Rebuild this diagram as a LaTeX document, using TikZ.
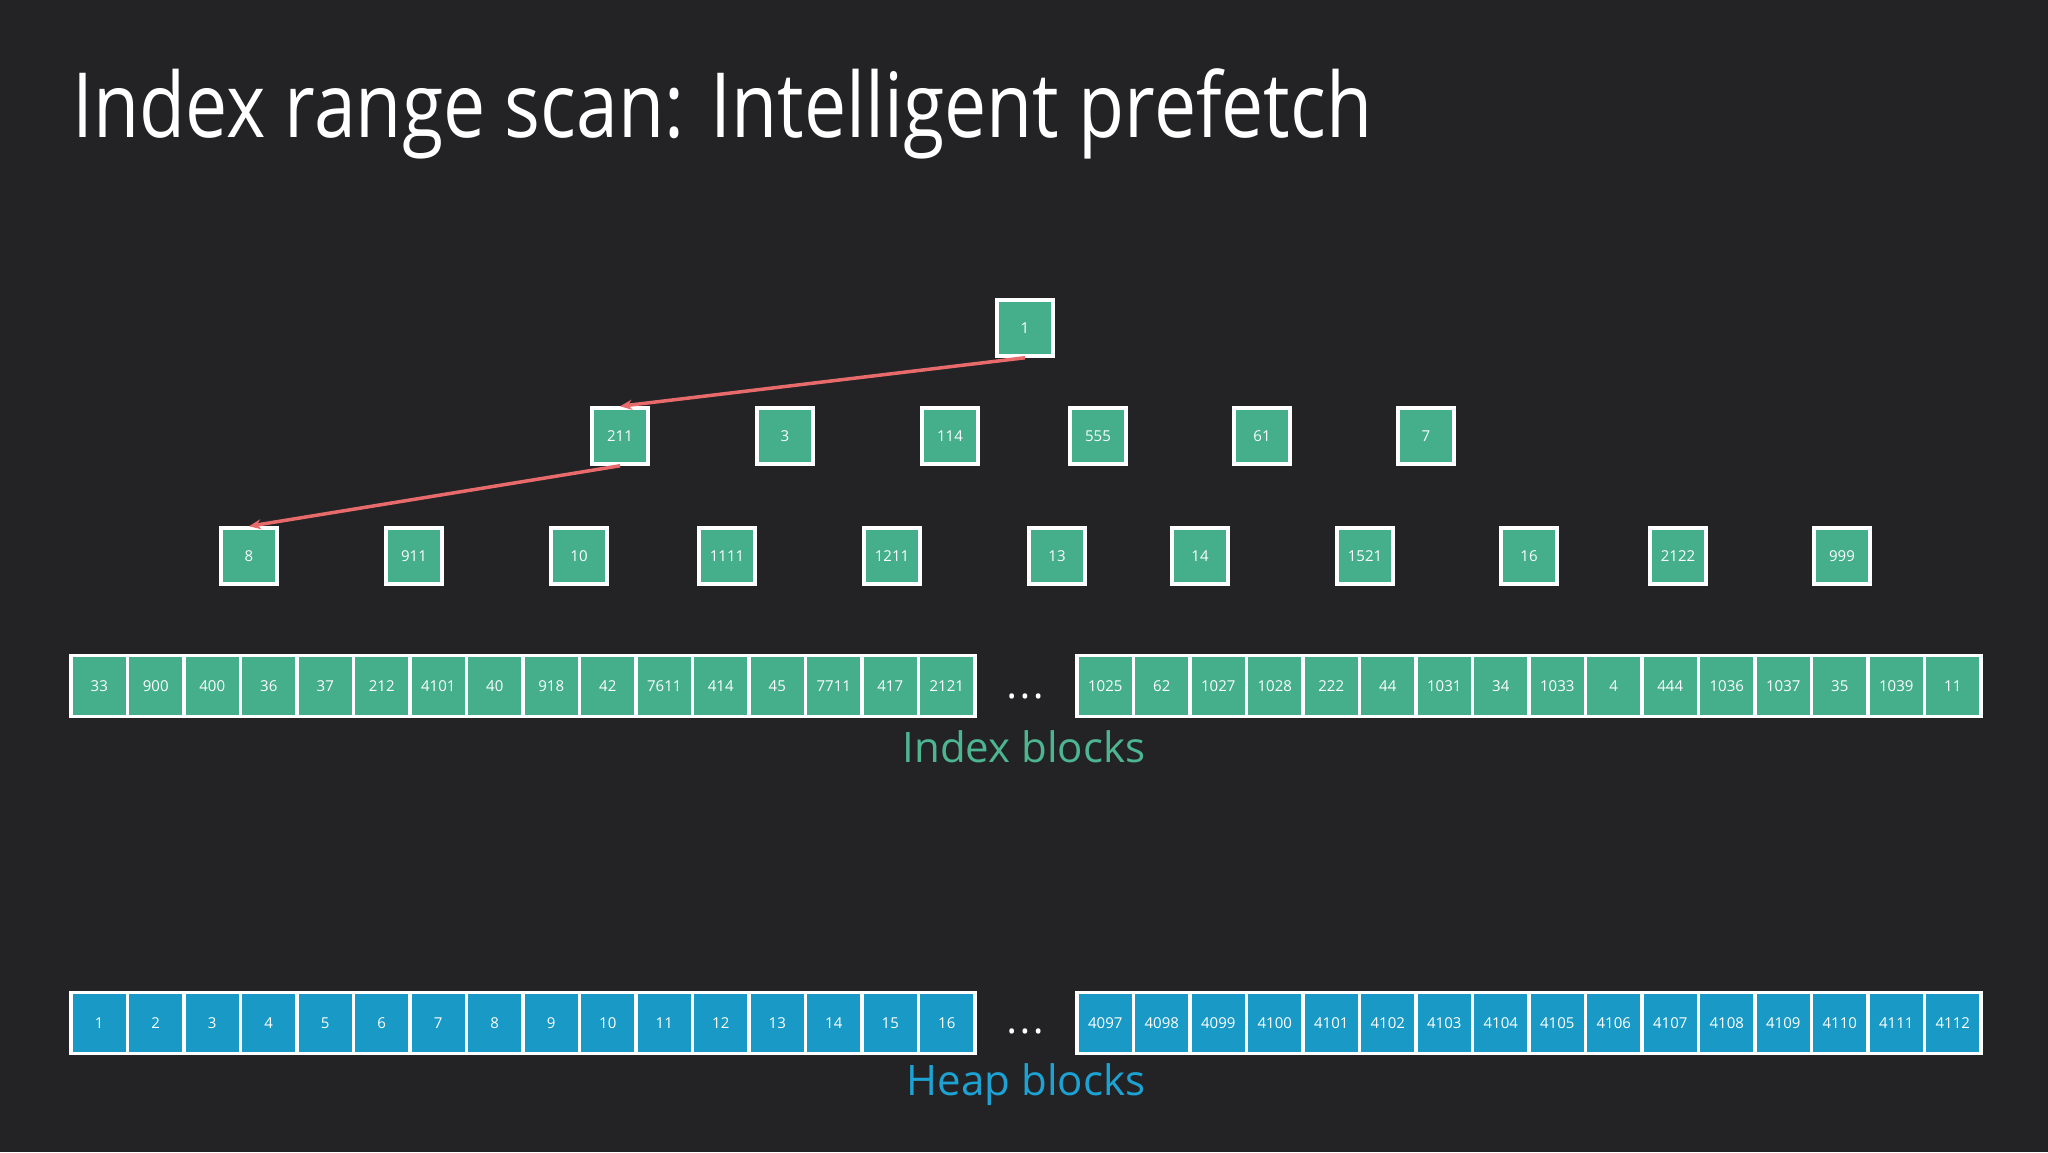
\documentclass[tikz,border=0pt]{standalone}
\usepackage{fontspec}
\setmainfont{Open Sans}
\usetikzlibrary{arrows.meta}
\definecolor{bg}{HTML}{232326}
\definecolor{gr}{HTML}{45AE8A}
\definecolor{bl}{HTML}{1899C6}
\definecolor{grt}{HTML}{4DB590}
\definecolor{blt}{HTML}{1CA3D3}
\definecolor{rd}{HTML}{E86A6A}
\tikzset{
 tnode/.style={draw=white,line width=3.5pt,fill=gr,minimum width=56pt,minimum height=56pt,inner sep=0pt,text=white,font=\fontsize{15}{15}\selectfont},
 cell/.style={draw=white,line width=3.5pt,fill=#1,minimum width=56.5pt,minimum height=61pt,inner sep=0pt,text=white,font=\fontsize{15}{15}\selectfont},
 link/.style={draw=rd,line width=3.5pt,-{Stealth[length=12pt,width=10pt]}},
 dots/.style={text=white,font=\fontsize{22}{22}\selectfont}
}
\begin{document}
\begin{tikzpicture}[x=1pt,y=-1pt]
\fill[bg] (0,0) rectangle (2048,1152);
\useasboundingbox (0,0) rectangle (2048,1152);
\node[anchor=base west,text=white,font=\fontsize{90}{90}\selectfont,inner sep=0pt] (title) at (72,137) {\scalebox{0.835}[1]{Index range scan: Intelligent prefetch}};
\node[tnode] (r) at (1025,328) {1};
\foreach \x/\t [count=\i] in {620/211,785/3,950/114,1098/555,1262/61,1426/7}
  \node[tnode] (l\i) at (\x,436) {\t};
\foreach \x/\t [count=\i] in {249/8,414/911,579/10,727/1111,892/1211,1057/13,1200/14,1365/1521,1529/16,1678/2122,1842/999}
  \node[tnode] (m\i) at (\x,556) {\t};
\draw[link] (r.south) -- (l1.north);
\draw[link] (l1.south) -- (m1.north);
\foreach \t [count=\i] in {33,900,400,36,37,212,4101,40,918,42,7611,414,45,7711,417,2121}
  \node[cell=gr] (ia\i) at ({71+28.25+56.5*(\i-1)},686) {\t};
\foreach \t [count=\i] in {1025,62,1027,1028,222,44,1031,34,1033,4,444,1036,1037,35,1039,11}
  \node[cell=gr] (ib\i) at ({1077+28.25+56.5*(\i-1)},686) {\t};
\node[dots] (idots) at (1025,699) {\textbullet\hspace{5pt}\textbullet\hspace{5pt}\textbullet};
\node[text=grt,font=\fontsize{42}{42}\selectfont] (ilab) at (1024,747) {Index blocks};
\foreach \i in {1,...,16}
  \node[cell=bl] (ha\i) at ({71+28.25+56.5*(\i-1)},1023) {\i};
\foreach \t [count=\i] in {4097,4098,4099,4100,4101,4102,4103,4104,4105,4106,4107,4108,4109,4110,4111,4112}
  \node[cell=bl] (hb\i) at ({1077+28.25+56.5*(\i-1)},1023) {\t};
\node[dots] (hdots) at (1025,1034) {\textbullet\hspace{5pt}\textbullet\hspace{5pt}\textbullet};
\node[text=blt,font=\fontsize{42}{42}\selectfont] (hlab) at (1026,1085) {Heap blocks};
\end{tikzpicture}
\end{document}
